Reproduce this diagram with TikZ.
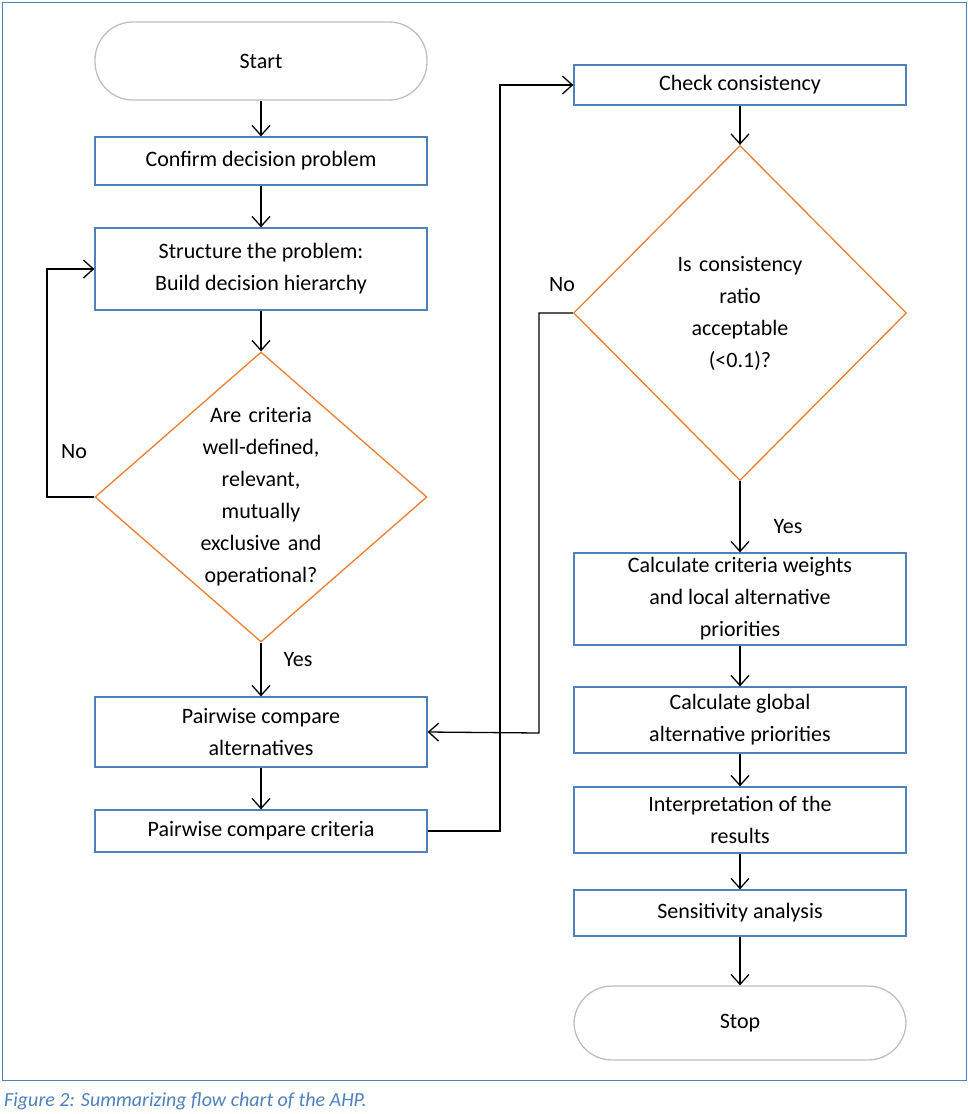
\documentclass[tikz,border=0pt]{standalone}
\usepackage{fontspec}
\setmainfont{Carlito}
\usetikzlibrary{arrows.meta,shapes.geometric}
\definecolor{bl}{HTML}{4F81BD}
\definecolor{or}{HTML}{ED7D31}
\definecolor{gr}{HTML}{BFBFBF}
\begin{document}
\begin{tikzpicture}[x=1pt,y=-1pt,font=\fontsize{22}{32}\selectfont,
 box/.style={draw=bl,line width=1.3pt,minimum width=332pt,align=center,inner sep=0pt},
 term/.style={draw=gr,line width=1.3pt,rounded corners=38pt,minimum width=332pt,inner sep=0pt},
 dia/.style={draw=or,line width=1.3pt,shape=diamond,inner sep=0pt},
 arr/.style={line width=1.3pt,-{Straight Barb[length=10pt,width=18pt]}},
 lab/.style={inner sep=0pt}]
\useasboundingbox (0,0) rectangle (968,1114);
\draw[bl,line width=1pt] (2,2) rectangle (966,1080);
\node[lab,font=\fontsize{20}{24}\selectfont\itshape,text=bl,anchor=west] (cap) at (4,1101) {Figure 2: Summarizing flow chart of the AHP.};
\node[term,minimum height=78pt] (start) at (261,61) {Start};
\node[box,minimum height=48pt] (confirm) at (261,161) {Confirm decision problem};
\node[box,minimum height=82pt] (struct) at (261,269) {Structure the problem:\\Build decision hierarchy};
\node[dia,minimum width=332pt,minimum height=290pt] (d1) at (261,497) {};
\node[lab,align=center,text width=200pt] (d1t) at (261,497) {Are criteria\\well-defined,\\relevant,\\mutually\\exclusive and\\operational?};
\node[box,minimum height=70pt] (alt) at (261,732) {Pairwise compare\\alternatives};
\node[box,minimum height=42pt] (crit) at (261,831) {Pairwise compare criteria};
\node[box,minimum height=40pt] (check) at (740,85) {Check consistency};
\node[dia,minimum width=333pt,minimum height=335pt] (d2) at (740,313) {};
\node[lab,align=center,text width=200pt] (d2t) at (740,313) {Is consistency\\ratio\\acceptable\\(<0.1)?};
\node[box,minimum height=92pt] (weights) at (740,599) {Calculate criteria weights\\and local alternative\\priorities};
\node[box,minimum height=66pt] (global) at (740,720) {Calculate global\\alternative priorities};
\node[box,minimum height=66pt] (interp) at (740,820) {Interpretation of the\\results};
\node[box,minimum height=46pt] (sens) at (740,913) {Sensitivity analysis};
\node[term,minimum height=74pt] (stop) at (740,1023) {Stop};
\draw[arr] (start) -- (confirm);
\draw[arr] (confirm) -- (struct);
\draw[arr] (struct) -- (d1.north);
\draw[arr] (d1.south) -- (alt);
\node[lab] (yes1) at (298,660) {Yes};
\draw[arr] (alt) -- (crit);
\draw[arr] (d1.west) -- (47,497) -- (47,269) -- (struct.west);
\node[lab] (no1) at (74,452) {No};
\draw[arr] (crit.east) -- (500,831) -- (500,85) -- (check.west);
\draw[arr] (check) -- (d2.north);
\draw[arr] (d2.west) -- (539,313) -- (539,733) -- (alt.east);
\node[lab] (no2) at (562,285) {No};
\draw[arr] (d2.south) -- (weights);
\node[lab] (yes2) at (788,527) {Yes};
\draw[arr] (weights) -- (global);
\draw[arr] (global) -- (interp);
\draw[arr] (interp) -- (sens);
\draw[arr] (sens) -- (stop);
\end{tikzpicture}
\end{document}
